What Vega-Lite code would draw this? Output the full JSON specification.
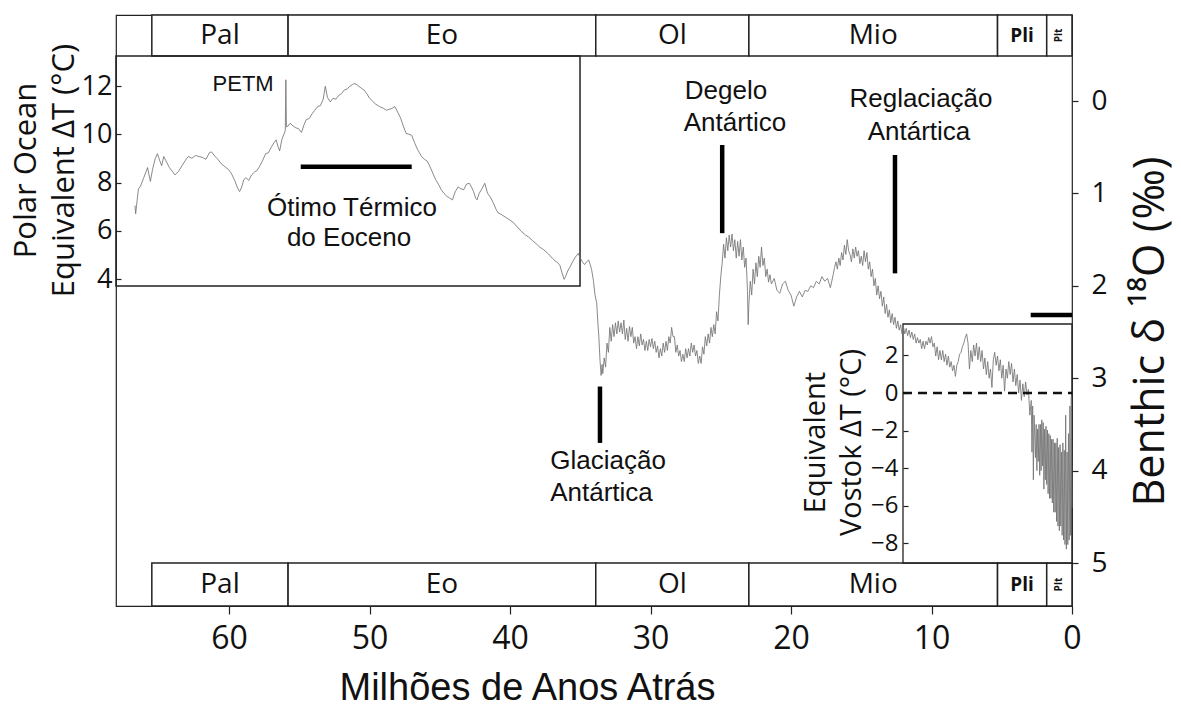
{
"$schema":"https://vega.github.io/schema/vega-lite/v6.json",
"width":956,"height":591,
"autosize":{"type":"none"},
"padding":{"left":116,"top":15,"right":109,"bottom":103},
"background":"white",
"config":{"view":{"stroke":"#222","strokeWidth":1.2},
 "axis":{"grid":false,"labelColor":"#111","tickColor":"#222","titleColor":"#111","titleFontWeight":"normal","labelFont":"Open Sans","titleFont":"Open Sans"},
 "axisX":{"orient":"bottom","domain":false,"tickSize":8,"tickWidth":1.2,"labelFontSize":32,"labelPadding":9,"labelFlush":false,"labelOverlap":false,"titleFont":"Liberation Sans","titleFontSize":38,"titleX":411,"titleY":82,"titleAlign":"center","titleBaseline":"middle"}},
"datasets":{
"curve":[
{"t":66.7,"d":1.13},{"t":66.65,"d":1.22},{"t":66.55,"d":1.08},{"t":66.45,"d":0.95},{"t":66.3,"d":0.92},{"t":66.1,"d":0.84},{"t":65.9,"d":0.76},{"t":65.8,"d":0.72},{"t":65.7,"d":0.80},{"t":65.6,"d":0.87},{"t":65.45,"d":0.74},{"t":65.25,"d":0.62},{"t":65.1,"d":0.57},{"t":64.95,"d":0.64},{"t":64.8,"d":0.70},{"t":64.65,"d":0.60},{"t":64.45,"d":0.66},{"t":64.25,"d":0.72},{"t":64.05,"d":0.76},{"t":63.85,"d":0.80},{"t":63.6,"d":0.76},{"t":63.35,"d":0.70},{"t":63.1,"d":0.64},{"t":62.9,"d":0.60},{"t":62.65,"d":0.62},{"t":62.4,"d":0.59},{"t":62.15,"d":0.60},{"t":61.9,"d":0.61},{"t":61.65,"d":0.63},{"t":61.4,"d":0.56},{"t":61.25,"d":0.55},{"t":61.0,"d":0.60},{"t":60.8,"d":0.63},{"t":60.55,"d":0.68},{"t":60.3,"d":0.71},{"t":60.05,"d":0.74},{"t":59.85,"d":0.78},{"t":59.6,"d":0.86},{"t":59.4,"d":0.94},{"t":59.25,"d":0.98},{"t":59.1,"d":0.93},{"t":58.95,"d":0.85},{"t":58.8,"d":0.83},{"t":58.6,"d":0.86},{"t":58.4,"d":0.80},{"t":58.2,"d":0.77},{"t":58.0,"d":0.75},{"t":57.8,"d":0.70},{"t":57.6,"d":0.64},{"t":57.4,"d":0.57},{"t":57.2,"d":0.56},{"t":57.0,"d":0.50},{"t":56.8,"d":0.45},{"t":56.65,"d":0.42},{"t":56.5,"d":0.50},{"t":56.4,"d":0.54},{"t":56.25,"d":0.42},{"t":56.1,"d":0.36},{"t":56.0,"d":0.32},{"t":55.96,"d":-0.23},{"t":55.92,"d":0.28},{"t":55.8,"d":0.27},{"t":55.65,"d":0.24},{"t":55.45,"d":0.27},{"t":55.25,"d":0.29},{"t":55.05,"d":0.30},{"t":54.85,"d":0.34},{"t":54.65,"d":0.25},{"t":54.5,"d":0.20},{"t":54.3,"d":0.19},{"t":54.1,"d":0.14},{"t":53.9,"d":0.10},{"t":53.7,"d":0.06},{"t":53.5,"d":0.05},{"t":53.3,"d":-0.02},{"t":53.15,"d":-0.16},{"t":53.0,"d":-0.04},{"t":52.8,"d":0.01},{"t":52.6,"d":-0.03},{"t":52.4,"d":-0.02},{"t":52.2,"d":-0.06},{"t":52.0,"d":-0.08},{"t":51.8,"d":-0.12},{"t":51.6,"d":-0.13},{"t":51.4,"d":-0.16},{"t":51.2,"d":-0.18},{"t":51.05,"d":-0.19},{"t":50.85,"d":-0.17},{"t":50.6,"d":-0.14},{"t":50.4,"d":-0.12},{"t":50.2,"d":-0.08},{"t":50.0,"d":-0.03},{"t":49.8,"d":0.00},{"t":49.6,"d":0.03},{"t":49.3,"d":0.06},{"t":49.0,"d":0.08},{"t":48.8,"d":0.10},{"t":48.6,"d":0.09},{"t":48.4,"d":0.08},{"t":48.2,"d":0.06},{"t":48.0,"d":0.12},{"t":47.8,"d":0.18},{"t":47.6,"d":0.27},{"t":47.4,"d":0.35},{"t":47.2,"d":0.36},{"t":47.0,"d":0.37},{"t":46.8,"d":0.45},{"t":46.6,"d":0.52},{"t":46.3,"d":0.60},{"t":46.1,"d":0.63},{"t":45.9,"d":0.65},{"t":45.7,"d":0.71},{"t":45.5,"d":0.78},{"t":45.3,"d":0.85},{"t":45.1,"d":0.90},{"t":44.9,"d":0.96},{"t":44.7,"d":1.00},{"t":44.5,"d":1.03},{"t":44.3,"d":1.05},{"t":44.1,"d":1.07},{"t":43.9,"d":0.98},{"t":43.7,"d":0.93},{"t":43.5,"d":0.95},{"t":43.3,"d":0.96},{"t":43.1,"d":0.90},{"t":42.9,"d":0.89},{"t":42.75,"d":0.93},{"t":42.6,"d":0.98},{"t":42.45,"d":1.05},{"t":42.35,"d":1.07},{"t":42.2,"d":1.00},{"t":42.0,"d":0.95},{"t":41.8,"d":0.89},{"t":41.6,"d":1.00},{"t":41.4,"d":1.04},{"t":41.2,"d":1.10},{"t":41.0,"d":1.17},{"t":40.85,"d":1.21},{"t":40.6,"d":1.23},{"t":40.3,"d":1.26},{"t":40.0,"d":1.29},{"t":39.8,"d":1.31},{"t":39.5,"d":1.36},{"t":39.2,"d":1.41},{"t":38.9,"d":1.45},{"t":38.7,"d":1.47},{"t":38.4,"d":1.51},{"t":38.1,"d":1.55},{"t":37.9,"d":1.58},{"t":37.6,"d":1.61},{"t":37.3,"d":1.65},{"t":37.0,"d":1.70},{"t":36.8,"d":1.73},{"t":36.6,"d":1.75},{"t":36.45,"d":1.78},{"t":36.3,"d":1.86},{"t":36.15,"d":1.93},{"t":36.05,"d":1.90},{"t":35.9,"d":1.84},{"t":35.75,"d":1.80},{"t":35.55,"d":1.74},{"t":35.35,"d":1.69},{"t":35.15,"d":1.65},{"t":35.0,"d":1.70},{"t":34.85,"d":1.74},{"t":34.7,"d":1.77},{"t":34.55,"d":1.74},{"t":34.4,"d":1.72},{"t":34.3,"d":1.77},{"t":34.2,"d":1.82},{"t":34.07,"d":1.94},{"t":33.95,"d":2.10},{"t":33.83,"d":2.19},{"t":33.75,"d":2.40},{"t":33.68,"d":2.55},{"t":33.6,"d":2.80},
{"t":33.52,"d":2.97},{"t":33.45,"d":2.85},{"t":33.4,"d":2.95},{"t":33.3,"d":2.78},{"t":33.2,"d":2.88},{"t":33.1,"d":2.62},{"t":33.0,"d":2.72},{"t":32.9,"d":2.45},{"t":32.8,"d":2.60},{"t":32.7,"d":2.42},{"t":32.6,"d":2.55},{"t":32.5,"d":2.40},{"t":32.4,"d":2.52},{"t":32.3,"d":2.38},{"t":32.2,"d":2.50},{"t":32.1,"d":2.40},{"t":32.0,"d":2.52},{"t":31.9,"d":2.37},{"t":31.8,"d":2.58},{"t":31.7,"d":2.46},{"t":31.6,"d":2.60},{"t":31.5,"d":2.44},{"t":31.4,"d":2.55},{"t":31.3,"d":2.45},{"t":31.2,"d":2.62},{"t":31.1,"d":2.55},{"t":31.0,"d":2.68},{"t":30.9,"d":2.55},{"t":30.8,"d":2.65},{"t":30.7,"d":2.52},{"t":30.6,"d":2.64},{"t":30.5,"d":2.58},{"t":30.4,"d":2.70},{"t":30.3,"d":2.60},{"t":30.2,"d":2.70},{"t":30.1,"d":2.58},{"t":30.0,"d":2.66},{"t":29.9,"d":2.57},{"t":29.8,"d":2.68},{"t":29.7,"d":2.60},{"t":29.6,"d":2.72},{"t":29.5,"d":2.65},{"t":29.4,"d":2.78},{"t":29.3,"d":2.68},{"t":29.2,"d":2.76},{"t":29.1,"d":2.62},{"t":29.0,"d":2.72},{"t":28.9,"d":2.60},{"t":28.8,"d":2.70},{"t":28.7,"d":2.55},{"t":28.6,"d":2.62},{"t":28.5,"d":2.45},{"t":28.4,"d":2.55},{"t":28.3,"d":2.55},{"t":28.2,"d":2.72},{"t":28.1,"d":2.64},{"t":28.0,"d":2.76},{"t":27.9,"d":2.70},{"t":27.8,"d":2.82},{"t":27.7,"d":2.74},{"t":27.6,"d":2.82},{"t":27.5,"d":2.68},{"t":27.4,"d":2.78},{"t":27.3,"d":2.68},{"t":27.2,"d":2.76},{"t":27.1,"d":2.62},{"t":27.0,"d":2.72},{"t":26.9,"d":2.64},{"t":26.8,"d":2.76},{"t":26.7,"d":2.70},{"t":26.6,"d":2.84},{"t":26.5,"d":2.76},{"t":26.4,"d":2.84},{"t":26.3,"d":2.66},{"t":26.2,"d":2.74},{"t":26.1,"d":2.55},{"t":26.0,"d":2.65},{"t":25.9,"d":2.52},{"t":25.8,"d":2.62},{"t":25.7,"d":2.45},{"t":25.6,"d":2.55},{"t":25.5,"d":2.42},{"t":25.4,"d":2.52},{"t":25.3,"d":2.28},{"t":25.2,"d":2.38},{"t":25.1,"d":2.10},{"t":25.0,"d":1.90},{"t":24.9,"d":1.75},
{"t":24.8,"d":1.55},{"t":24.7,"d":1.70},{"t":24.6,"d":1.48},{"t":24.5,"d":1.62},{"t":24.4,"d":1.45},{"t":24.3,"d":1.58},{"t":24.2,"d":1.44},{"t":24.1,"d":1.62},{"t":24.0,"d":1.50},{"t":23.9,"d":1.70},{"t":23.8,"d":1.52},{"t":23.7,"d":1.68},{"t":23.6,"d":1.50},{"t":23.5,"d":1.72},{"t":23.4,"d":1.58},{"t":23.3,"d":1.80},{"t":23.2,"d":1.70},{"t":23.1,"d":2.05},{"t":23.05,"d":2.42},{"t":23.0,"d":2.20},{"t":22.9,"d":1.95},{"t":22.8,"d":2.10},{"t":22.7,"d":1.82},{"t":22.6,"d":1.98},{"t":22.5,"d":1.75},{"t":22.4,"d":1.90},{"t":22.3,"d":1.68},{"t":22.2,"d":1.80},{"t":22.1,"d":1.58},{"t":22.0,"d":1.78},{"t":21.9,"d":1.70},{"t":21.8,"d":1.90},{"t":21.7,"d":1.82},{"t":21.6,"d":1.96},{"t":21.5,"d":1.88},{"t":21.4,"d":1.98},{"t":21.2,"d":1.92},{"t":21.0,"d":2.05},{"t":20.8,"d":2.08},{"t":20.6,"d":1.98},{"t":20.4,"d":1.95},{"t":20.2,"d":2.05},{"t":20.0,"d":2.10},{"t":19.8,"d":2.22},{"t":19.6,"d":2.12},{"t":19.4,"d":2.06},{"t":19.2,"d":2.12},{"t":19.0,"d":2.05},{"t":18.8,"d":2.06},{"t":18.6,"d":2.00},{"t":18.4,"d":2.02},{"t":18.2,"d":1.95},{"t":18.0,"d":1.98},{"t":17.8,"d":1.90},{"t":17.6,"d":1.95},{"t":17.4,"d":1.92},{"t":17.2,"d":2.02},{"t":17.0,"d":1.88},{"t":16.9,"d":1.80},{"t":16.8,"d":1.74},{"t":16.7,"d":1.82},{"t":16.6,"d":1.70},{"t":16.5,"d":1.78},{"t":16.4,"d":1.64},{"t":16.3,"d":1.72},{"t":16.2,"d":1.56},{"t":16.1,"d":1.66},{"t":16.0,"d":1.50},{"t":15.9,"d":1.62},{"t":15.8,"d":1.66},{"t":15.7,"d":1.74},{"t":15.6,"d":1.60},{"t":15.5,"d":1.70},{"t":15.4,"d":1.58},{"t":15.3,"d":1.68},{"t":15.2,"d":1.62},{"t":15.1,"d":1.76},{"t":15.0,"d":1.68},{"t":14.9,"d":1.78},{"t":14.8,"d":1.62},{"t":14.7,"d":1.74},{"t":14.6,"d":1.64},{"t":14.5,"d":1.82},{"t":14.4,"d":1.74},{"t":14.3,"d":1.90},{"t":14.2,"d":1.82},{"t":14.1,"d":2.00},{"t":14.0,"d":1.92},{"t":13.9,"d":2.10},{"t":13.8,"d":2.00},{"t":13.7,"d":2.14},{"t":13.6,"d":2.06},{"t":13.5,"d":2.22},{"t":13.4,"d":2.12},{"t":13.3,"d":2.30},{"t":13.2,"d":2.20},{"t":13.1,"d":2.34},{"t":13.0,"d":2.26},{"t":12.9,"d":2.40},{"t":12.8,"d":2.30},{"t":12.7,"d":2.42},{"t":12.6,"d":2.34},{"t":12.5,"d":2.46},{"t":12.4,"d":2.38},{"t":12.3,"d":2.48},
{"t":12.2,"d":2.42},{"t":12.1,"d":2.52},{"t":12.0,"d":2.44},{"t":11.9,"d":2.52},{"t":11.8,"d":2.46},{"t":11.7,"d":2.54},{"t":11.6,"d":2.48},{"t":11.5,"d":2.56},{"t":11.4,"d":2.50},{"t":11.3,"d":2.58},{"t":11.2,"d":2.52},{"t":11.1,"d":2.62},{"t":11.0,"d":2.56},{"t":10.9,"d":2.62},{"t":10.8,"d":2.58},{"t":10.7,"d":2.68},{"t":10.6,"d":2.60},{"t":10.5,"d":2.68},{"t":10.4,"d":2.60},{"t":10.3,"d":2.64},{"t":10.2,"d":2.56},{"t":10.1,"d":2.62},{"t":10.0,"d":2.55},{"t":9.9,"d":2.66},{"t":9.8,"d":2.62},{"t":9.7,"d":2.76},{"t":9.6,"d":2.66},{"t":9.5,"d":2.80},{"t":9.4,"d":2.70},{"t":9.3,"d":2.80},{"t":9.2,"d":2.70},{"t":9.1,"d":2.82},{"t":9.0,"d":2.74},{"t":8.9,"d":2.86},{"t":8.8,"d":2.76},{"t":8.7,"d":2.88},{"t":8.6,"d":2.82},{"t":8.5,"d":2.92},{"t":8.4,"d":2.86},{"t":8.3,"d":2.98},{"t":8.2,"d":2.86},{"t":8.1,"d":2.82},{"t":8.0,"d":2.74},{"t":7.9,"d":2.72},{"t":7.8,"d":2.66},{"t":7.7,"d":2.62},{"t":7.6,"d":2.56},{"t":7.5,"d":2.52},{"t":7.4,"d":2.62},{"t":7.3,"d":2.90},{"t":7.2,"d":2.70},{"t":7.1,"d":2.82},{"t":7.0,"d":2.64},{"t":6.9,"d":2.76},{"t":6.8,"d":2.62},{"t":6.7,"d":2.80},{"t":6.6,"d":2.66},{"t":6.5,"d":2.82},{"t":6.4,"d":2.70},{"t":6.3,"d":2.90},{"t":6.2,"d":2.78},{"t":6.1,"d":2.96},{"t":6.0,"d":2.82},{"t":5.9,"d":3.00},{"t":5.8,"d":2.90},{"t":5.7,"d":3.10},{"t":5.6,"d":2.80},{"t":5.5,"d":2.72},{"t":5.4,"d":2.86},{"t":5.3,"d":2.76},{"t":5.2,"d":2.92},{"t":5.1,"d":2.80},{"t":5.0,"d":3.00},{"t":4.9,"d":2.86},{"t":4.8,"d":3.14},{"t":4.7,"d":2.90},{"t":4.6,"d":3.00},{"t":4.5,"d":2.82},{"t":4.4,"d":2.96},{"t":4.3,"d":2.84},{"t":4.2,"d":3.04},{"t":4.1,"d":2.90},{"t":4.0,"d":3.08},{"t":3.9,"d":2.96},{"t":3.8,"d":3.16},{"t":3.7,"d":3.02},{"t":3.6,"d":3.24},{"t":3.5,"d":3.06},{"t":3.4,"d":3.20},{"t":3.3,"d":3.04},{"t":3.2,"d":3.18},{"t":3.1,"d":3.12},{"t":3.0,"d":3.40},{"t":2.9,"d":3.24},{"t":2.85,"d":3.80},{"t":2.8,"d":3.30},{"t":2.75,"d":4.10},{"t":2.7,"d":3.40},{"t":2.6,"d":3.86},{"t":2.55,"d":3.50},{"t":2.5,"d":4.00},{"t":2.45,"d":3.55},{"t":2.4,"d":3.90},{"t":2.35,"d":3.50},{"t":2.3,"d":4.05},{"t":2.25,"d":3.50},{"t":2.2,"d":4.00},{"t":2.15,"d":3.45},{"t":2.1,"d":3.95},{"t":2.05,"d":3.48},{"t":2.0,"d":4.20},{"t":1.95,"d":3.55},{"t":1.9,"d":4.10},{"t":1.85,"d":3.52},{"t":1.8,"d":4.15},{"t":1.75,"d":3.56},{"t":1.7,"d":4.25},{"t":1.65,"d":3.60},{"t":1.6,"d":4.30},{"t":1.55,"d":3.62},{"t":1.5,"d":4.30},{"t":1.45,"d":3.66},{"t":1.4,"d":4.35},{"t":1.35,"d":3.66},{"t":1.3,"d":4.45},{"t":1.25,"d":3.70},{"t":1.2,"d":4.45},{"t":1.15,"d":3.70},{"t":1.1,"d":4.55},{"t":1.05,"d":3.65},{"t":1.0,"d":4.60},{"t":0.95,"d":3.75},{"t":0.9,"d":4.65},{"t":0.85,"d":3.72},{"t":0.8,"d":4.60},{"t":0.75,"d":3.80},{"t":0.7,"d":4.70},{"t":0.65,"d":3.70},{"t":0.6,"d":4.75},{"t":0.55,"d":3.78},{"t":0.5,"d":4.80},{"t":0.45,"d":3.40},{"t":0.4,"d":4.85},{"t":0.35,"d":3.80},{"t":0.3,"d":4.80},{"t":0.25,"d":3.60},{"t":0.2,"d":4.75},{"t":0.15,"d":3.30},{"t":0.1,"d":4.70},{"t":0.05,"d":3.20},{"t":0.0,"d":4.40}
],
"epochs":[
{"name":"Pal","start":65.5,"end":55.8},{"name":"Eo","start":55.8,"end":33.9},{"name":"Ol","start":33.9,"end":23.0},{"name":"Mio","start":23.0,"end":5.3},{"name":"Pli","start":5.3,"end":1.8},{"name":"Plt","start":1.8,"end":0}
],
"bars":[
{"t":54.9,"t2":47.0,"d":0.71,"d2":0.71},{"t":24.9,"t2":24.9,"d":0.476,"d2":1.43},{"t":12.6,"t2":12.6,"d":0.584,"d2":1.865},{"t":33.6,"t2":33.6,"d":3.09,"d2":3.70},{"t":2.94,"t2":0,"d":2.316,"d2":2.316}
],
"notes":[
{"label":"PETM","t":59.0,"d":-0.179},{"label":"Ótimo Térmico","t":51.25,"d":1.158},{"label":"do Eoceno","t":51.46,"d":1.483},{"label":"Degelo","t":24.63,"d":-0.108},{"label":"Antártico","t":23.99,"d":0.238},{"label":"Reglaciação","t":10.75,"d":-0.022},{"label":"Antártica","t":10.89,"d":0.33},{"label":"Glaciação","t":33.02,"d":3.896},{"label":"Antártica","t":33.49,"d":4.242}
]
},
"layer":[
{"data":{"name":"epochs"},"mark":{"type":"rect","fill":"white","stroke":"#222","strokeWidth":1.5},
 "encoding":{"x":{"field":"start","type":"quantitative","scale":{"domain":[68.05,0],"nice":false,"zero":false},"axis":{"title":"Milhões de Anos Atrás","values":[0,10,20,30,40,50,60]}},
  "x2":{"field":"end"},
  "y":{"datum":-0.931,"type":"quantitative","scale":{"domain":[-0.931,5.465],"reverse":true,"nice":false,"zero":false},
   "axis":{"orient":"right","values":[0,1,2,3,4,5],"domain":false,"tickSize":6,"tickWidth":1.2,"labelFontSize":28,"labelPadding":13,"labelFlush":false,"labelOverlap":false,"title":"Benthic δ ¹⁸O (‰)","titleFontSize":43,"titleAngle":270,"titleX":78,"titleY":316,"titleAlign":"center","titleBaseline":"middle"}},
  "y2":{"datum":-0.487}}},
{"data":{"name":"epochs"},"mark":{"type":"rect","fill":"white","stroke":"#222","strokeWidth":1.5},
 "encoding":{"x":{"field":"start","type":"quantitative","scale":{"domain":[68.05,0],"nice":false,"zero":false},"axis":{"title":"Milhões de Anos Atrás","values":[0,10,20,30,40,50,60]}},"x2":{"field":"end"},
  "y":{"datum":5.0,"type":"quantitative","scale":{"domain":[-0.931,5.465],"reverse":true,"nice":false,"zero":false},"axis":null},"y2":{"datum":5.465}}},
{"data":{"values":[{}]},"mark":{"type":"rect","fillOpacity":0,"stroke":"#222","strokeWidth":1.5},
 "encoding":{"x":{"datum":68.05,"type":"quantitative","scale":{"domain":[68.05,0],"nice":false,"zero":false},"axis":{"title":"Milhões de Anos Atrás","values":[0,10,20,30,40,50,60]}},"x2":{"datum":35.02},
  "y":{"datum":-0.487,"type":"quantitative","scale":{"domain":[-0.931,5.465],"reverse":true,"nice":false,"zero":false},"axis":null},"y2":{"datum":2.002}}},
{"data":{"values":[{}]},"mark":{"type":"rect","fillOpacity":0,"stroke":"#222","strokeWidth":1.3},
 "encoding":{"x":{"datum":12.03,"type":"quantitative","scale":{"domain":[68.05,0],"nice":false,"zero":false},"axis":{"title":"Milhões de Anos Atrás","values":[0,10,20,30,40,50,60]}},"x2":{"datum":0},
  "y":{"datum":2.413,"type":"quantitative","scale":{"domain":[-0.931,5.465],"reverse":true,"nice":false,"zero":false},"axis":null},"y2":{"datum":5.0}}},
{"data":{"name":"curve"},"mark":{"type":"line","color":"#747474","strokeWidth":0.85},
 "encoding":{"x":{"field":"t","type":"quantitative","scale":{"domain":[68.05,0],"nice":false,"zero":false},"axis":{"title":"Milhões de Anos Atrás","values":[0,10,20,30,40,50,60]}},
  "y":{"field":"d","type":"quantitative","scale":{"domain":[-0.931,5.465],"reverse":true,"nice":false,"zero":false},"axis":null}}},
{"data":{"values":[{}]},"mark":{"type":"rule","color":"#111","strokeWidth":2.5,"strokeDash":[9,6]},
 "encoding":{"x":{"datum":12.03,"type":"quantitative","scale":{"domain":[68.05,0],"nice":false,"zero":false},"axis":{"title":"Milhões de Anos Atrás","values":[0,10,20,30,40,50,60]}},"x2":{"datum":0},
  "y":{"datum":3.16,"type":"quantitative","scale":{"domain":[-0.931,5.465],"reverse":true,"nice":false,"zero":false},"axis":null}}},
{"data":{"name":"bars"},"mark":{"type":"rule","color":"#000","strokeWidth":4.5},
 "encoding":{"x":{"field":"t","type":"quantitative","scale":{"domain":[68.05,0],"nice":false,"zero":false},"axis":{"title":"Milhões de Anos Atrás","values":[0,10,20,30,40,50,60]}},"x2":{"field":"t2"},
  "y":{"field":"d","type":"quantitative","scale":{"domain":[-0.931,5.465],"reverse":true,"nice":false,"zero":false},"axis":null},"y2":{"field":"d2"}}},
{"data":{"name":"notes"},"transform":[{"filter":"datum.label !== 'PETM'"}],"mark":{"type":"text","font":"Liberation Sans","fontSize":26,"align":"center","baseline":"middle","color":"#111"},
 "encoding":{"x":{"field":"t","type":"quantitative","scale":{"domain":[68.05,0],"nice":false,"zero":false},"axis":{"title":"Milhões de Anos Atrás","values":[0,10,20,30,40,50,60]}},
  "y":{"field":"d","type":"quantitative","scale":{"domain":[-0.931,5.465],"reverse":true,"nice":false,"zero":false},"axis":null},"text":{"field":"label"}}},
{"data":{"name":"notes"},"transform":[{"filter":"datum.label === 'PETM'"}],"mark":{"type":"text","font":"Liberation Sans","fontSize":22,"align":"center","baseline":"middle","color":"#111"},
 "encoding":{"x":{"field":"t","type":"quantitative","scale":{"domain":[68.05,0],"nice":false,"zero":false},"axis":{"title":"Milhões de Anos Atrás","values":[0,10,20,30,40,50,60]}},
  "y":{"field":"d","type":"quantitative","scale":{"domain":[-0.931,5.465],"reverse":true,"nice":false,"zero":false},"axis":null},"text":{"field":"label"}}},
{"data":{"name":"epochs"},"transform":[{"filter":"indexof(['Pal','Eo','Ol','Mio'], datum.name) >= 0"},{"calculate":"(datum.start+datum.end)/2","as":"mid"}],"mark":{"type":"text","font":"Open Sans","fontSize":28,"align":"center","baseline":"middle","color":"#111"},
 "encoding":{"x":{"field":"mid","type":"quantitative","scale":{"domain":[68.05,0],"nice":false,"zero":false},"axis":{"title":"Milhões de Anos Atrás","values":[0,10,20,30,40,50,60]}},
  "y":{"datum":-0.709,"type":"quantitative","scale":{"domain":[-0.931,5.465],"reverse":true,"nice":false,"zero":false},"axis":null},"text":{"field":"name"}}},
{"data":{"name":"epochs"},"transform":[{"filter":"indexof(['Pal','Eo','Ol','Mio'], datum.name) >= 0"},{"calculate":"(datum.start+datum.end)/2","as":"mid"}],"mark":{"type":"text","font":"Open Sans","fontSize":28,"align":"center","baseline":"middle","color":"#111"},
 "encoding":{"x":{"field":"mid","type":"quantitative","scale":{"domain":[68.05,0],"nice":false,"zero":false},"axis":{"title":"Milhões de Anos Atrás","values":[0,10,20,30,40,50,60]}},
  "y":{"datum":5.233,"type":"quantitative","scale":{"domain":[-0.931,5.465],"reverse":true,"nice":false,"zero":false},"axis":null},"text":{"field":"name"}}},
{"data":{"name":"epochs"},"transform":[{"filter":"datum.name === 'Pli'"},{"calculate":"(datum.start+datum.end)/2","as":"mid"}],"mark":{"type":"text","font":"Open Sans","fontSize":19,"fontWeight":"bold","align":"center","baseline":"middle","color":"#111"},
 "encoding":{"x":{"field":"mid","type":"quantitative","scale":{"domain":[68.05,0],"nice":false,"zero":false},"axis":{"title":"Milhões de Anos Atrás","values":[0,10,20,30,40,50,60]}},
  "y":{"datum":-0.709,"type":"quantitative","scale":{"domain":[-0.931,5.465],"reverse":true,"nice":false,"zero":false},"axis":null},"text":{"field":"name"}}},
{"data":{"name":"epochs"},"transform":[{"filter":"datum.name === 'Pli'"},{"calculate":"(datum.start+datum.end)/2","as":"mid"}],"mark":{"type":"text","font":"Open Sans","fontSize":19,"fontWeight":"bold","align":"center","baseline":"middle","color":"#111"},
 "encoding":{"x":{"field":"mid","type":"quantitative","scale":{"domain":[68.05,0],"nice":false,"zero":false},"axis":{"title":"Milhões de Anos Atrás","values":[0,10,20,30,40,50,60]}},
  "y":{"datum":5.233,"type":"quantitative","scale":{"domain":[-0.931,5.465],"reverse":true,"nice":false,"zero":false},"axis":null},"text":{"field":"name"}}},
{"data":{"name":"epochs"},"transform":[{"filter":"datum.name === 'Plt'"},{"calculate":"(datum.start+datum.end)/2","as":"mid"}],"mark":{"type":"text","font":"Open Sans","fontSize":10,"fontWeight":"bold","angle":270,"align":"center","baseline":"middle","color":"#111"},
 "encoding":{"x":{"field":"mid","type":"quantitative","scale":{"domain":[68.05,0],"nice":false,"zero":false},"axis":{"title":"Milhões de Anos Atrás","values":[0,10,20,30,40,50,60]}},
  "y":{"datum":-0.709,"type":"quantitative","scale":{"domain":[-0.931,5.465],"reverse":true,"nice":false,"zero":false},"axis":null},"text":{"field":"name"}}},
{"data":{"name":"epochs"},"transform":[{"filter":"datum.name === 'Plt'"},{"calculate":"(datum.start+datum.end)/2","as":"mid"}],"mark":{"type":"text","font":"Open Sans","fontSize":10,"fontWeight":"bold","angle":270,"align":"center","baseline":"middle","color":"#111"},
 "encoding":{"x":{"field":"mid","type":"quantitative","scale":{"domain":[68.05,0],"nice":false,"zero":false},"axis":{"title":"Milhões de Anos Atrás","values":[0,10,20,30,40,50,60]}},
  "y":{"datum":5.233,"type":"quantitative","scale":{"domain":[-0.931,5.465],"reverse":true,"nice":false,"zero":false},"axis":null},"text":{"field":"name"}}},
{"data":{"values":[{}]},"mark":{"type":"rule","opacity":0},
 "encoding":{"y":{"datum":8,"type":"quantitative","scale":{"domain":[-9.53,14.94],"nice":false,"zero":false},
  "axis":{"orient":"left","values":[4,6,8,10,12],"domain":false,"tickSize":-5,"tickWidth":1.2,"labelFontSize":27,"labelPadding":9,"labelFlush":false,"labelOverlap":false,"title":["Polar Ocean","Equivalent ΔT (°C)"],"titleFontSize":31,"titleLineHeight":38,"titleAngle":270,"titleX":-90,"titleY":155,"titleAlign":"center","titleBaseline":"middle"}}}},
{"data":{"values":[{}]},"mark":{"type":"rule","opacity":0},
 "encoding":{"y":{"datum":0,"type":"quantitative","scale":{"domain":[-11.33,20.11],"nice":false,"zero":false},
  "axis":{"orient":"left","offset":-787,"values":[-8,-6,-4,-2,0,2],"domain":false,"tickSize":-5,"tickWidth":1.2,"labelFontSize":24,"labelPadding":10,"labelFlush":false,"labelOverlap":false,"title":["Equivalent","Vostok ΔT (°C)"],"titleFontSize":29,"titleLineHeight":36,"titleAngle":270,"titleX":-88,"titleY":427,"titleAlign":"center","titleBaseline":"middle"}}}}
],
"resolve":{"scale":{"y":"independent"},"axis":{"y":"independent"}}
}
